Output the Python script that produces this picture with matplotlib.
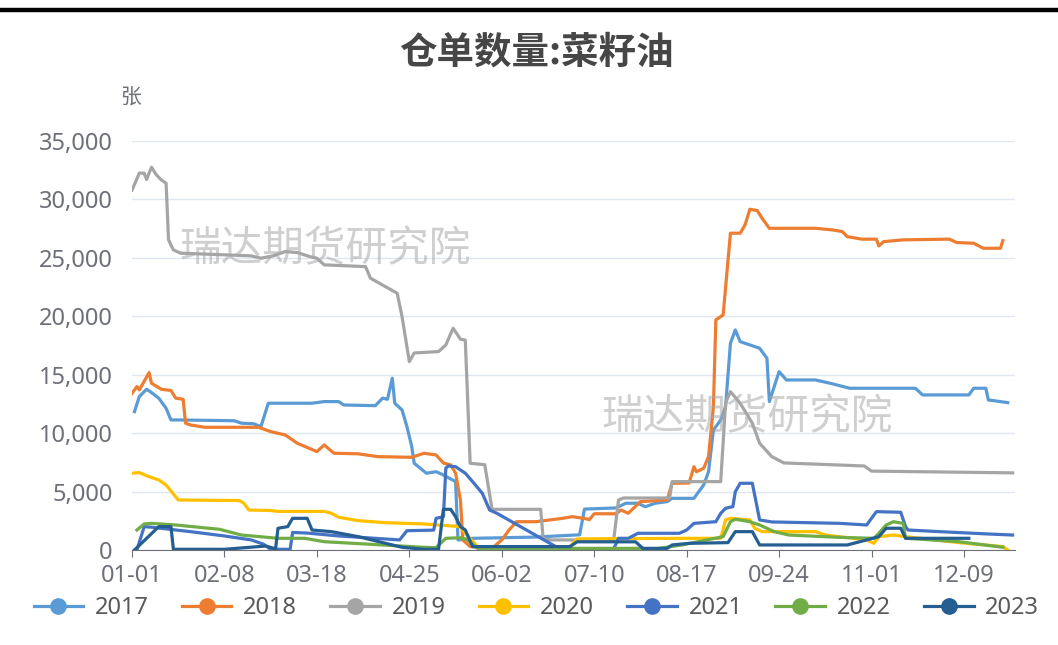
import matplotlib
matplotlib.use("Agg")
import matplotlib.pyplot as plt
from matplotlib.lines import Line2D

plt.rcParams['font.family'] = ['Noto Sans CJK SC', 'DejaVu Sans']

# day of year (0 = 01-01) and warehouse receipts (张)
d2017 = [1, 3, 6, 8, 11, 14, 16, 19, 42, 45, 50, 53, 56, 74, 79, 85, 87, 100, 103, 105, 107, 108, 111, 113, 115, 116,
         121, 125, 128, 133, 134, 140, 165, 184, 186, 199, 203, 208, 211, 215, 220, 222, 231, 233, 235, 237, 239, 242,
         244, 246, 248, 250, 254, 258, 261, 262, 264, 266, 269, 281, 287, 295, 322, 325, 344, 346, 351, 352, 360]
v2017 = [11840, 13130, 13760, 13470, 12990, 12130, 11130, 11130, 11060, 10850, 10800, 10560, 12560, 12560, 12700,
         12700, 12410, 12350, 12990, 12900, 14700, 12560, 11980, 10560, 8840, 7420, 6570, 6700, 6420, 5850, 860, 1000,
         1100, 1300, 3500, 3600, 4000, 4000, 3700, 4000, 4140, 4420, 4420, 5000, 5560, 6700, 10270, 11130, 12270, 17690,
         18830, 17830, 17550, 17260, 16410, 12700, 13980, 15260, 14550, 14550, 14270, 13840, 13840, 13270, 13270, 13840,
         13840, 12840, 12610]

d2018 = [0, 2, 3, 7, 8, 12, 16, 18, 21, 22, 24, 30, 52, 57, 63, 68, 76, 79, 83, 93, 101, 115, 120, 125, 128, 131, 133,
         135, 136, 139, 148, 152, 155, 158, 166, 177, 181, 186, 188, 190, 199, 201, 204, 209, 220, 222, 229, 231, 232,
         235, 237, 239, 240, 243, 246, 250, 252, 254, 257, 259, 262, 281, 288, 292, 294, 300, 306, 307, 309, 317, 336,
         339, 346, 350, 357, 358]
v2018 = [13410, 13980, 13700, 15180, 14270, 13760, 13650, 12990, 12900, 10850, 10700, 10500, 10500, 10130, 9840, 9130,
         8420, 8990, 8280, 8230, 7990, 7930, 8280, 8130, 7440, 7280, 6570, 4280, 860, 290, 150, 860, 1710, 2420, 2420,
         2710, 2850, 2700, 2600, 3100, 3100, 3420, 3140, 4140, 4280, 5710, 5730, 7130, 6700, 6990, 7990, 12270, 19690,
         20120, 27110, 27110, 27820, 29160, 29050, 28390, 27530, 27530, 27390, 27250, 26820, 26600, 26600, 26020, 26390,
         26540, 26600, 26310, 26250, 25820, 25820, 26480]

d2019 = [0, 3, 5, 6, 7, 8, 10, 12, 14, 15, 17, 20, 49, 53, 58, 63, 68, 73, 76, 79, 96, 98, 109, 111, 114, 116, 126, 129,
         132, 135, 137, 139, 145, 148, 168, 169, 172, 198, 200, 202, 221, 222, 242, 244, 246, 250, 255, 258, 263, 268,
         301, 304, 362]
v2019 = [30800, 32250, 32250, 31700, 32250, 32760, 32100, 31670, 31390, 26540, 25680, 25400, 25170, 24970, 25170, 25540,
         25450, 25110, 24970, 24400, 24250, 23260, 21970, 19970, 16120, 16860, 16980, 17550, 18980, 18040, 17960, 7420,
         7300, 3480, 3480, 1000, 860, 860, 4280, 4450, 4450, 5850, 5850, 12580, 13550, 12560, 10850, 9130, 7990, 7450,
         7190, 6750, 6600]

d2020 = [0, 3, 7, 11, 14, 19, 44, 46, 48, 57, 60, 79, 82, 85, 93, 104, 120, 135, 137, 142, 180, 183, 226, 242, 244, 246,
         254, 256, 259, 281, 285, 302, 305, 307, 313, 318, 340, 358, 360]
v2020 = [6570, 6620, 6270, 6000, 5560, 4280, 4230, 4000, 3420, 3380, 3300, 3300, 3140, 2800, 2510, 2340, 2230, 2000,
         1430, 290, 290, 950, 1000, 1000, 2570, 2710, 2570, 1860, 1570, 1570, 1280, 860, 570, 1140, 1280, 1140, 630, 290,
         0]

d2021 = [2, 5, 8, 24, 38, 49, 54, 57, 65, 66, 72, 85, 100, 110, 113, 124, 125, 128, 129, 130, 133, 137, 140, 144, 147,
         150, 173, 176, 198, 200, 204, 208, 225, 228, 231, 240, 242, 244, 247, 248, 250, 255, 258, 263, 291, 302, 306,
         316, 318, 319, 332, 352, 362]
v2021 = [0, 2000, 1950, 1570, 1200, 860, 500, 60, 60, 1500, 1450, 1200, 1000, 860, 1650, 1700, 2710, 2850, 7000, 7190,
         7130, 6570, 5850, 4850, 3420, 3140, 430, 100, 100, 1000, 1000, 1430, 1430, 1710, 2280, 2420, 3140, 3570, 3710,
         4990, 5710, 5710, 2570, 2400, 2280, 2140, 3280, 3230, 2000, 1710, 1570, 1370, 1280]

d2022 = [2, 5, 8, 18, 36, 45, 60, 71, 79, 120, 125, 129, 135, 138, 142, 210, 212, 226, 243, 246, 248, 254, 258, 264,
         270, 291, 305, 307, 310, 313, 317, 318, 340, 358]
v2022 = [1710, 2230, 2280, 2140, 1770, 1280, 1000, 1000, 710, 230, 200, 1000, 1050, 860, 140, 140, 0, 430, 1140, 2420,
         2630, 2420, 2140, 1570, 1280, 1080, 1000, 1430, 2140, 2420, 2280, 1000, 710, 230]

d2023 = [1, 11, 16, 17, 38, 55, 59, 60, 64, 66, 72, 74, 82, 93, 111, 120, 126, 128, 131, 133, 135, 137, 140, 180, 183,
         207, 210, 220, 222, 229, 245, 248, 255, 258, 294, 302, 307, 310, 316, 318, 344]
v2023 = [0, 2000, 2000, 60, 60, 340, 100, 1860, 2000, 2710, 2710, 1710, 1570, 1140, 230, 60, 60, 3480, 3480, 2850, 2000,
         1710, 290, 290, 700, 700, 140, 140, 430, 570, 630, 1570, 1570, 430, 430, 860, 1140, 1860, 1860, 1000, 1000]

series = [("2017", d2017, v2017, "#5B9BD5"),
          ("2018", d2018, v2018, "#ED7D31"),
          ("2019", d2019, v2019, "#A5A5A5"),
          ("2020", d2020, v2020, "#FFC000"),
          ("2021", d2021, v2021, "#4472C4"),
          ("2022", d2022, v2022, "#70AD47"),
          ("2023", d2023, v2023, "#255E91")]

tick_days = [0, 38, 76, 114, 152, 190, 228, 266, 304, 342]
tick_labels = ["01-01", "02-08", "03-18", "04-25", "06-02", "07-10", "08-17", "09-24", "11-01", "12-09"]

fig = plt.figure(figsize=(10.58, 6.45), dpi=100)
ax = fig.add_axes([0.1248, 0.1473, 0.8346, 0.6341])

for name, d, v, c in series:
    ax.plot(d, v, color=c, lw=2.3, label=name, solid_joinstyle="round")

ax.set_xlim(0, 363)
ax.set_ylim(0, 35000)
ax.set_yticks(range(0, 35001, 5000))
ax.set_yticklabels([f"{v:,}" for v in range(0, 35001, 5000)])
ax.set_xticks(tick_days)
ax.set_xticklabels(tick_labels)
ax.grid(axis="y", color="#E0E6F1", lw=1)
ax.set_axisbelow(True)
for s in ["top", "right", "left"]:
    ax.spines[s].set_visible(False)
ax.spines["bottom"].set_color("#6E7079")
ax.tick_params(axis="y", length=0, pad=14, labelsize=17, labelcolor="#6E7079")
ax.tick_params(axis="x", length=5, color="#6E7079", pad=5, labelsize=17, labelcolor="#6E7079")
for lab in ax.get_xticklabels() + ax.get_yticklabels():
    lab.set_family("Noto Sans")

# watermarks
fig.text(0.307, 0.612, "瑞达期货研究院", fontsize=30, color="#A8A8A8", alpha=0.55, ha="center", va="center", zorder=10)
fig.text(0.706, 0.352, "瑞达期货研究院", fontsize=30, color="#A8A8A8", alpha=0.55, ha="center", va="center", zorder=10)

fig.text(0.507, 0.919, "仓单数量:菜籽油", fontsize=27, fontweight="bold", color="#464646", ha="center", va="center")
fig.text(0.123, 0.849, "张", fontsize=15, color="#6E7079", ha="center", va="center")

# top border line
fig.add_artist(Line2D([0, 1], [0.984, 0.984], transform=fig.transFigure, color="black", lw=3.2))

handles = [Line2D([], [], color=c, lw=2.3, marker="o", markersize=11) for _, _, _, c in series]
leg = fig.legend(handles, [s[0] for s in series], loc="center", bbox_to_anchor=(0.507, 0.057), ncol=7,
                 frameon=False, fontsize=17, handlelength=2.1, handletextpad=0.5, columnspacing=1.4)
for t in leg.get_texts():
    t.set_color("#595959")
    t.set_family("Noto Sans")

fig.savefig("out.png", dpi=100)
